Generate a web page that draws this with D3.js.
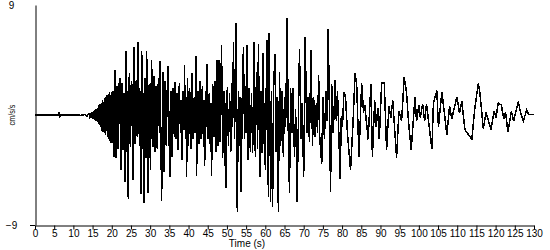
<!DOCTYPE html>
<html>
<head>
<meta charset="utf-8">
<script src="https://cdn.jsdelivr.net/npm/d3@7"></script>
<style>
  body { margin: 0; background: #fff; }
  svg { display: block; }
</style>
</head>
<body>
<div id="viz"></div>
<script>
// accelerogram, [time (s), acceleration (cm/s/s)]
const preEvent = [
  [0, 0], [3, 0.02], [6, -0.02], [6.3, 0.25], [6.4, -0.2], [6.6, 0], [10, 0.02], [12, -0.03],
  [13, 0.05], [13.5, -0.1], [14, 0.12], [14.2, -0.1], [14.4, 0.15], [14.6, -0.2], [14.8, 0.25],
  [15.0, -0.3], [15.2, 0.3], [15.35, -0.35], [15.5, 0.4], [15.65, -0.4], [15.8, 0.45],
  [15.95, -0.5], [16.1, 0.5], [16.25, -0.6], [16.4, 0.6], [16.55, -0.7], [16.7, 0.8],
  [16.85, -0.8], [17, 0.9], [17.15, -1.0], [17.3, 1.0], [17.45, -1.3], [17.6, 1.2],
  [17.75, -1.4], [17.9, 1.1], [18.05, -1.5], [18.2, 1.4], [18.35, -1.6], [18.5, 1.5],
  [18.65, -1.3], [18.8, 1.6], [18.95, -1.8], [19.1, 1.7], [19.25, -2.0], [19.4, 1.9],
  [19.55, -2.1], [19.7, 1.6], [19.85, -2.3], [20, 1.9], [20.15, -2.3]
];

const strongMotion = [
  [20.3, 2.0], [20.45, -1.8], [20.6, -3.4], [20.8, 3.7], [20.95, -1.5], [21.1, -3.5], [21.25, 2.0],
  [21.4, 2.4], [21.55, -2.2], [21.7, -2.8], [21.9, 2.5], [22.1, 3.0], [22.25, -2.0], [22.4, -4.5],
  [22.55, 2.2], [22.7, 2.6], [22.85, -2.0], [23.0, -2.9], [23.2, 1.8], [23.4, -5.5], [23.7, 5.2],
  [24.0, -3.0], [24.15, 2.0], [24.3, -6.9], [24.45, 2.4], [24.6, 3.4], [24.75, -2.2], [24.9, -2.6],
  [25.05, 2.4], [25.2, 2.8], [25.4, -2.4], [25.6, -5.3], [25.85, 5.6], [26.1, -2.4], [26.25, 2.0],
  [26.4, 2.9], [26.65, -1.8], [26.9, 6.0], [27.2, -2.5], [27.4, 2.0], [27.6, -6.5], [27.8, 5.2],
  [28.1, -2.8], [28.25, 1.8], [28.4, -7.2], [28.7, 3.0], [28.9, -3.5], [29.1, 5.2], [29.3, -2.0],
  [29.5, -6.4], [29.65, 2.2], [29.8, 2.5], [29.95, -2.4], [30.1, -4.5], [30.25, 2.0], [30.4, 4.5],
  [30.55, -2.0], [30.7, -2.6], [30.85, 2.4], [31.0, 3.2], [31.15, -2.2], [31.3, -3.0], [31.45, 2.0],
  [31.6, 2.4], [31.75, -2.4], [31.9, -2.8], [32.05, 2.2], [32.2, 3.0], [32.4, -1.5], [32.6, 4.4],
  [32.8, -2.2], [33.0, -7.0], [33.3, 3.5], [33.6, -4.7], [33.9, 2.8], [34.05, -2.0], [34.2, -2.5],
  [34.45, 2.0], [34.7, 4.0], [34.95, -2.2], [35.2, -5.1], [35.45, 2.0], [35.7, -3.4], [36.0, 2.2],
  [36.3, -1.8], [36.5, 2.7], [36.8, -2.0], [37.0, 1.8], [37.3, -2.9], [37.6, 2.6], [37.9, -1.5],
  [38.1, 1.2], [38.3, -3.7], [38.6, 2.0], [38.8, -1.2], [38.95, 4.1], [39.2, -2.0], [39.35, 1.5],
  [39.5, -5.1], [39.75, 3.0], [40.0, -2.5], [40.3, 2.2], [40.6, -2.8], [40.9, 3.4], [41.2, -2.0],
  [41.5, 1.5], [41.7, -1.5], [41.9, 4.8], [42.1, -5.0], [42.4, 2.0], [42.7, -2.4], [43.0, 2.8],
  [43.3, -2.0], [43.6, 2.4], [43.9, -2.6], [44.05, 1.2], [44.2, -4.2], [44.5, 2.0], [44.65, -1.0],
  [44.8, 4.2], [45.1, -2.0], [45.4, 1.8], [45.7, -3.0], [45.85, 1.0], [46.0, -5.0], [46.3, 2.5],
  [46.6, -1.8], [46.9, 2.8], [47.2, -3.0], [47.45, 4.5], [47.7, -2.5], [47.9, 4.5], [48.2, -2.2],
  [48.6, 5.7], [48.9, -3.5], [49.2, 2.0], [49.5, -4.2], [49.65, 1.0], [49.8, -6.0], [50.1, 2.3],
  [50.4, -2.5], [50.7, 1.8], [51.0, -3.0], [51.3, 2.6], [51.5, -1.0], [51.7, 6.0], [52.0, -2.0],
  [52.3, 7.5], [52.7, -7.9], [53.0, 2.0], [53.3, -2.5], [53.45, 1.5], [53.7, -6.3], [54.0, 1.5],
  [54.3, 5.6], [54.6, -2.0], [54.85, 2.4], [55.0, -1.5], [55.2, 5.7], [55.5, -3.7], [55.8, 2.2],
  [56.1, -3.0], [56.4, 1.8], [56.7, -3.1], [57.1, 6.0], [57.4, -3.4], [57.7, 3.5], [58.0, -2.8],
  [58.2, 5.8], [58.6, -5.1], [58.9, 2.0], [59.2, -3.1], [59.4, 5.1], [59.7, -2.4], [59.85, 1.0],
  [60.0, -4.5]
];

const coda = [
  [60.4, 6.1], [60.8, -6.7], [61.0, 6.7], [61.4, -7.1], [61.6, 2.0], [61.9, -7.5], [62.2, 2.5],
  [62.5, 5.0], [62.8, -3.0], [63.1, 1.5], [63.4, -7.9], [63.7, 3.5], [64.0, -2.5], [64.3, 2.0],
  [64.7, -3.4], [65.0, 1.5], [65.3, -1.0], [65.7, 7.9], [66.0, -2.0], [66.3, -6.4], [66.6, 2.2],
  [66.9, -1.5], [67.2, 2.2], [67.6, -3.4], [67.9, 0.5], [68.3, -7.1], [68.9, 5.4], [69.3, -2.0],
  [69.6, 1.0], [70.0, -5.1], [70.4, 6.4], [70.8, -1.5], [71.1, 1.5], [71.5, -2.2], [71.9, 5.3],
  [72.3, -2.5], [72.6, 1.5], [72.9, -1.8], [73.3, 1.0], [73.6, -1.5], [73.9, 3.3], [74.2, -2.0],
  [74.7, -4.0], [75.0, 1.5], [75.4, -2.0], [75.8, 2.0], [76.1, -0.5], [76.4, 7.0], [77.0, -6.3],
  [77.3, 2.5], [77.7, -1.5], [78.0, 1.0], [78.2, 2.9], [78.5, -0.5], [78.8, 2.0], [79.1, -1.0],
  [79.5, -5.2], [79.8, -0.1], [80.1, -1.0], [80.5, 1.9], [80.9, 1.5], [81.4, -1.5], [82.2, -4.5],
  [82.8, -1.0], [83.4, 3.4], [83.8, 2.5], [84.4, -3.4], [85.1, 2.6], [85.6, 0.2], [85.9, 0.8],
  [86.8, -2.0], [87.5, 2.5], [87.9, -3.4], [88.5, 1.2], [88.9, -1.0], [89.3, 0.6], [89.7, -2.0],
  [90.3, 2.6], [91.0, 2.6], [91.6, -2.9], [92.2, 0.7], [92.7, -0.2], [93.2, 1.2], [94.2, -3.5],
  [94.8, 0.3], [95.5, -0.5], [96.2, 3.1], [96.8, 1.8], [97.3, -0.5], [98.0, -2.9], [99.0, 1.5],
  [99.4, -0.5], [100.0, 0.8], [100.4, -0.2], [101.0, 0.9], [101.5, -0.5], [102.0, 0.9],
  [103.4, -2.8], [103.8, 1.0], [104.7, 2.0], [105.1, -1.0], [106.0, 1.9], [107.3, -1.6],
  [108.0, 0.7], [108.6, -0.3], [109.9, 1.5], [110.6, 0.15], [111.2, 1.1], [112.0, -1.2],
  [113.8, -2.0], [114.6, 0.6], [115.5, 2.6], [115.9, 1.8], [116.8, -1.1], [117.5, 0.2],
  [118.0, -0.3], [118.8, -1.2], [119.6, 0.3], [120.1, -0.2], [120.7, 1.0], [121.5, 0.8],
  [122.1, -0.3], [122.6, 0.2], [123.2, -1.4], [124.1, 0.3], [124.7, -0.5], [125.9, 1.1],
  [126.5, 0.2], [127.2, -0.5], [128.1, 0.4], [128.6, 0.05], [130.0, 0.05]
];

const timeTicks = d3.range(0, 131, 5);
const accelTicks = [-9, 9];

const trace = preEvent.concat(strongMotion, coda);

const svg = d3.select("#viz").append("svg")
    .attr("width", 550)
    .attr("height", 250)
    .style("font-family", "'Liberation Sans', Arial, sans-serif");

const x = d3.scaleLinear()
    .domain([0, 130])
    .range([35, 534]);

const y = d3.scaleLinear()
    .domain([-9, 9])
    .range([225, 5]);

// trace
const line = d3.line()
    .x(d => x(d[0]))
    .y(d => y(d[1]));

svg.append("path")
    .datum(trace)
    .attr("d", line)
    .attr("fill", "none")
    .attr("stroke", "#000")
    .attr("stroke-width", 1.5)
    .attr("shape-rendering", "crispEdges");

// x axis
const xAxis = d3.axisBottom(x)
    .tickValues(timeTicks)
    .tickSize(4)
    .tickSizeOuter(0)
    .tickPadding(0);

const gx = svg.append("g")
    .attr("transform", "translate(0,225.5)")
    .call(xAxis);
gx.selectAll("text").style("font-size", "10px").attr("fill", "#000");
gx.selectAll("line, path").attr("stroke", "#000");

svg.append("line")
    .attr("x1", 30).attr("x2", 35)
    .attr("y1", 225.5).attr("y2", 225.5)
    .attr("stroke", "#000");

// y axis
const yAxis = d3.axisLeft(y)
    .tickValues(accelTicks)
    .tickSize(0)
    .tickSizeOuter(0);

const gy = svg.append("g")
    .attr("transform", "translate(35.5,0)")
    .call(yAxis);
gy.select(".domain").attr("stroke", "#000");
gy.selectAll("text")
    .attr("x", -24)
    .attr("text-anchor", "middle")
    .attr("fill", "#000")
    .style("font-size", "10px");

// axis titles
svg.append("text")
    .attr("x", 247)
    .attr("y", 247)
    .attr("text-anchor", "middle")
    .style("font-size", "10px")
    .text("Time (s)");

svg.append("text")
    .attr("transform", "translate(15,115) rotate(-90)")
    .attr("text-anchor", "middle")
    .attr("textLength", 21)
    .attr("lengthAdjust", "spacingAndGlyphs")
    .style("font-size", "9px")
    .text("cm/s/s");
</script>
</body>
</html>
